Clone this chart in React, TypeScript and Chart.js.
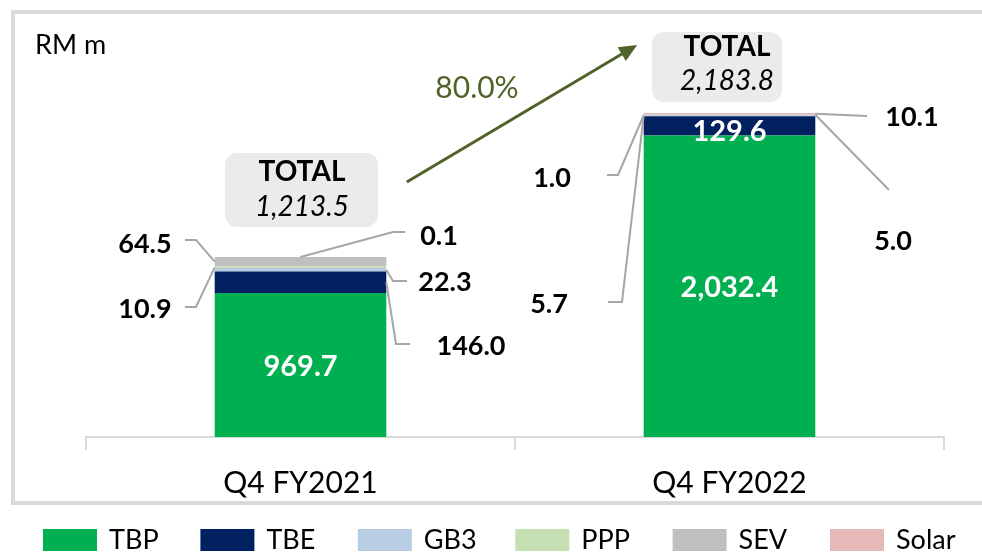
import React, { useEffect, useRef } from "react";
import { Chart, registerables } from "chart.js";

Chart.register(...registerables);

// ---------- data ----------
const categories = ["Q4 FY2021", "Q4 FY2022"];
const seriesNames = ["TBP", "TBE", "GB3", "PPP", "SEV", "Solar"];
const tbpValues = [969.7, 2032.4];
const tbeValues = [146.0, 129.6];
const gb3Values = [22.3, 5.7];
const pppValues = [10.9, 1.0];
const sevValues = [64.5, 5.0];
const solarValues = [0.1, 10.1];
const totalValues = [1213.5, 2183.8];
const growthLabel = "80.0%";
const unitLabel = "RM m";
const totalTitle = "TOTAL";

const seriesValues = [tbpValues, tbeValues, gb3Values, pppValues, sevValues, solarValues];
const seriesColors = ["#00b050", "#002060", "#b8cce4", "#c6e0b4", "#bfbfbf", "#e6b8b7"];

// ---------- styling / placement (relative to bar centre & bar top) ----------
const FONT = "Lato";
const LEADER = "#a6a6a6";
const OLIVE = "#4f6228";

type Outside = { ds: number; bar: number; side: "left" | "right" | "top"; tx: number; ty: number; path: number[][] };
const outsideLabels: Outside[] = [
  { ds: 4, bar: 0, side: "left", tx: -155.5, ty: -13, path: [[-115.5, -17], [-104.5, -17]] },
  { ds: 3, bar: 0, side: "left", tx: -155.5, ty: 52, path: [[-115.5, 50], [-104.5, 50]] },
  { ds: 5, bar: 0, side: "top", tx: 138.5, ty: -21, path: [[104.5, -25], [92.5, -25]] },
  { ds: 2, bar: 0, side: "right", tx: 144.5, ty: 25, path: [[106.5, 24], [92.5, 24]] },
  { ds: 1, bar: 0, side: "right", tx: 170.5, ty: 89, path: [[109.5, 87], [95.5, 87]] },
  { ds: 5, bar: 1, side: "right", tx: 182.5, ty: 4, path: [[137.5, 3]] },
  { ds: 4, bar: 1, side: "right", tx: 163.5, ty: 128, path: [[159.5, 77]] },
  { ds: 3, bar: 1, side: "left", tx: -177.5, ty: 65, path: [[-122.5, 62], [-111.5, 62]] },
  { ds: 2, bar: 1, side: "left", tx: -180.5, ty: 191, path: [[-121.5, 189], [-107.5, 189]] },
];
const insideLabels = [
  { ds: 0, bar: 0, dy: 2 },
  { ds: 0, bar: 1, dy: 1 },
  { ds: 1, bar: 1, dy: 6 },
];
const totalBoxes = [
  { bar: 0, x0: -75.5, x1: 77.5, y0: -104, y1: -30, tx: 1.5, t1: -85, t2: -50 },
  { bar: 1, x0: -77.5, x1: 52.5, y0: -81, y1: -11, tx: -2.5, t1: -66, t2: -32 },
];

const fmt = (v: number) =>
  v.toLocaleString("en-US", { minimumFractionDigits: 1, maximumFractionDigits: 1 });

const annotationPlugin = {
  id: "annotations",
  beforeDraw(chart: any) {
    const ctx = chart.ctx as CanvasRenderingContext2D;
    ctx.save();
    ctx.fillStyle = "#ffffff";
    ctx.fillRect(0, 0, chart.width, chart.height);
    ctx.strokeStyle = "#d9d9d9";
    ctx.lineWidth = 4;
    ctx.strokeRect(13, 12, chart.width + 20, 491);
    ctx.restore();
  },
  afterDraw(chart: any) {
    const ctx = chart.ctx as CanvasRenderingContext2D;
    const yScale = chart.scales.y;
    const el = (ds: number, i: number) => chart.getDatasetMeta(ds).data[i] as any;
    const barCx = (i: number) => el(0, i).x;
    const barHalf = (i: number) => el(0, i).width / 2;
    const barTop = (i: number) => yScale.getPixelForValue(totalValues[i]);

    ctx.save();
    // unit label
    ctx.fillStyle = "#000";
    ctx.font = `27px ${FONT}`;
    ctx.textAlign = "left";
    ctx.textBaseline = "middle";
    ctx.fillText(unitLabel, 35, 45);

    // leaders + outside labels
    ctx.lineWidth = 2;
    ctx.strokeStyle = LEADER;
    for (const l of outsideLabels) {
      const e = el(l.ds, l.bar);
      const cx = barCx(l.bar);
      const ty = barTop(l.bar);
      const hw = barHalf(l.bar);
      const mid = (e.y + e.base) / 2;
      let ax = cx, ay = e.y;
      if (l.side === "left") { ax = cx - hw; ay = mid; }
      if (l.side === "right") { ax = cx + hw; ay = mid; }
      ctx.beginPath();
      l.path.forEach((p, k) => {
        if (k === 0) ctx.moveTo(cx + p[0], ty + p[1]);
        else ctx.lineTo(cx + p[0], ty + p[1]);
      });
      ctx.lineTo(ax, ay);
      ctx.stroke();
      ctx.fillStyle = "#000";
      ctx.font = `bold 27px ${FONT}`;
      ctx.textAlign = "center";
      ctx.textBaseline = "middle";
      ctx.fillText(fmt(seriesValues[l.ds][l.bar]), cx + l.tx, ty + l.ty);
    }

    // inside labels
    ctx.fillStyle = "#ffffff";
    ctx.font = `bold 29px ${FONT}`;
    ctx.textAlign = "center";
    ctx.textBaseline = "middle";
    for (const l of insideLabels) {
      const e = el(l.ds, l.bar);
      ctx.fillText(fmt(seriesValues[l.ds][l.bar]), e.x, (e.y + e.base) / 2 + l.dy);
    }

    // total boxes
    for (const b of totalBoxes) {
      const cx = barCx(b.bar);
      const ty = barTop(b.bar);
      ctx.fillStyle = "#ebebeb";
      ctx.beginPath();
      (ctx as any).roundRect(cx + b.x0, ty + b.y0, b.x1 - b.x0, b.y1 - b.y0, 12);
      ctx.fill();
      ctx.fillStyle = "#000";
      ctx.font = `bold 28px ${FONT}`;
      ctx.fillText(totalTitle, cx + b.tx, ty + b.t1);
      ctx.font = `italic 28px ${FONT}`;
      ctx.fillText(fmt(totalValues[b.bar]), cx + b.tx, ty + b.t2);
    }

    // growth arrow
    const sx = barCx(0) + barHalf(0) + 20.5;
    const sy = barTop(0) - 75;
    const ex = barCx(1) - barHalf(1) - 6.5;
    const ey = barTop(1) - 68;
    const ang = Math.atan2(ey - sy, ex - sx);
    const head = 18;
    ctx.strokeStyle = OLIVE;
    ctx.fillStyle = OLIVE;
    ctx.lineWidth = 3;
    ctx.beginPath();
    ctx.moveTo(sx, sy);
    ctx.lineTo(ex - Math.cos(ang) * head * 0.8, ey - Math.sin(ang) * head * 0.8);
    ctx.stroke();
    ctx.beginPath();
    ctx.moveTo(ex, ey);
    ctx.lineTo(ex - head * Math.cos(ang) + 8 * Math.sin(ang), ey - head * Math.sin(ang) - 8 * Math.cos(ang));
    ctx.lineTo(ex - head * Math.cos(ang) - 8 * Math.sin(ang), ey - head * Math.sin(ang) + 8 * Math.cos(ang));
    ctx.closePath();
    ctx.fill();
    ctx.font = `30px ${FONT}`;
    ctx.textAlign = "center";
    ctx.fillText(growthLabel, (sx + ex) / 2 - 45, (sy + ey) / 2 - 25.5);

    // legend
    ctx.font = `27px ${FONT}`;
    ctx.textAlign = "left";
    ctx.textBaseline = "middle";
    seriesNames.forEach((name, i) => {
      const x0 = 43 + i * 157.4;
      ctx.fillStyle = seriesColors[i];
      ctx.fillRect(x0, 529, 54, 22);
      ctx.fillStyle = "#000";
      ctx.fillText(name, x0 + 66, 540);
    });
    ctx.restore();
  },
};

export default function App() {
  const ref = useRef<HTMLCanvasElement>(null);
  useEffect(() => {
    if (!ref.current) return;
    const chart = new Chart(ref.current, {
      type: "bar",
      data: {
        labels: categories,
        datasets: seriesNames.map((name, i) => ({
          label: name,
          data: seriesValues[i],
          backgroundColor: seriesColors[i],
          borderWidth: 0,
          barPercentage: 0.4,
          categoryPercentage: 1,
        })),
      },
      options: {
        responsive: false,
        devicePixelRatio: 1,
        animation: false,
        layout: { padding: { left: 86, right: 38, top: 20, bottom: 0 } },
        plugins: { legend: { display: false }, tooltip: { enabled: false } },
        scales: {
          x: {
            stacked: true,
            grid: { display: true, drawOnChartArea: false, drawTicks: true, tickLength: 13, color: "#d9d9d9", lineWidth: 2 },
            border: { display: true, color: "#d9d9d9", width: 2 },
            ticks: { color: "#000", font: { family: FONT, size: 30 }, padding: 15 },
            afterFit: (s: any) => { s.height = 115; },
          },
          y: { stacked: true, display: false, min: 0, max: 2810 },
        },
      },
      plugins: [annotationPlugin],
    } as any);
    const fonts = [`24px ${FONT}`, `bold 26px ${FONT}`, `italic 28px ${FONT}`, `30px ${FONT}`];
    Promise.all(fonts.map((f) => document.fonts.load(f))).then(() => chart.draw(), () => {});
    return () => chart.destroy();
  }, []);
  return (
    <div style={{ position: "absolute", left: 0, top: 0, width: 982, height: 552, background: "#fff" }}>
      <canvas ref={ref} width={982} height={552} style={{ display: "block", width: 982, height: 552 }} />
    </div>
  );
}
